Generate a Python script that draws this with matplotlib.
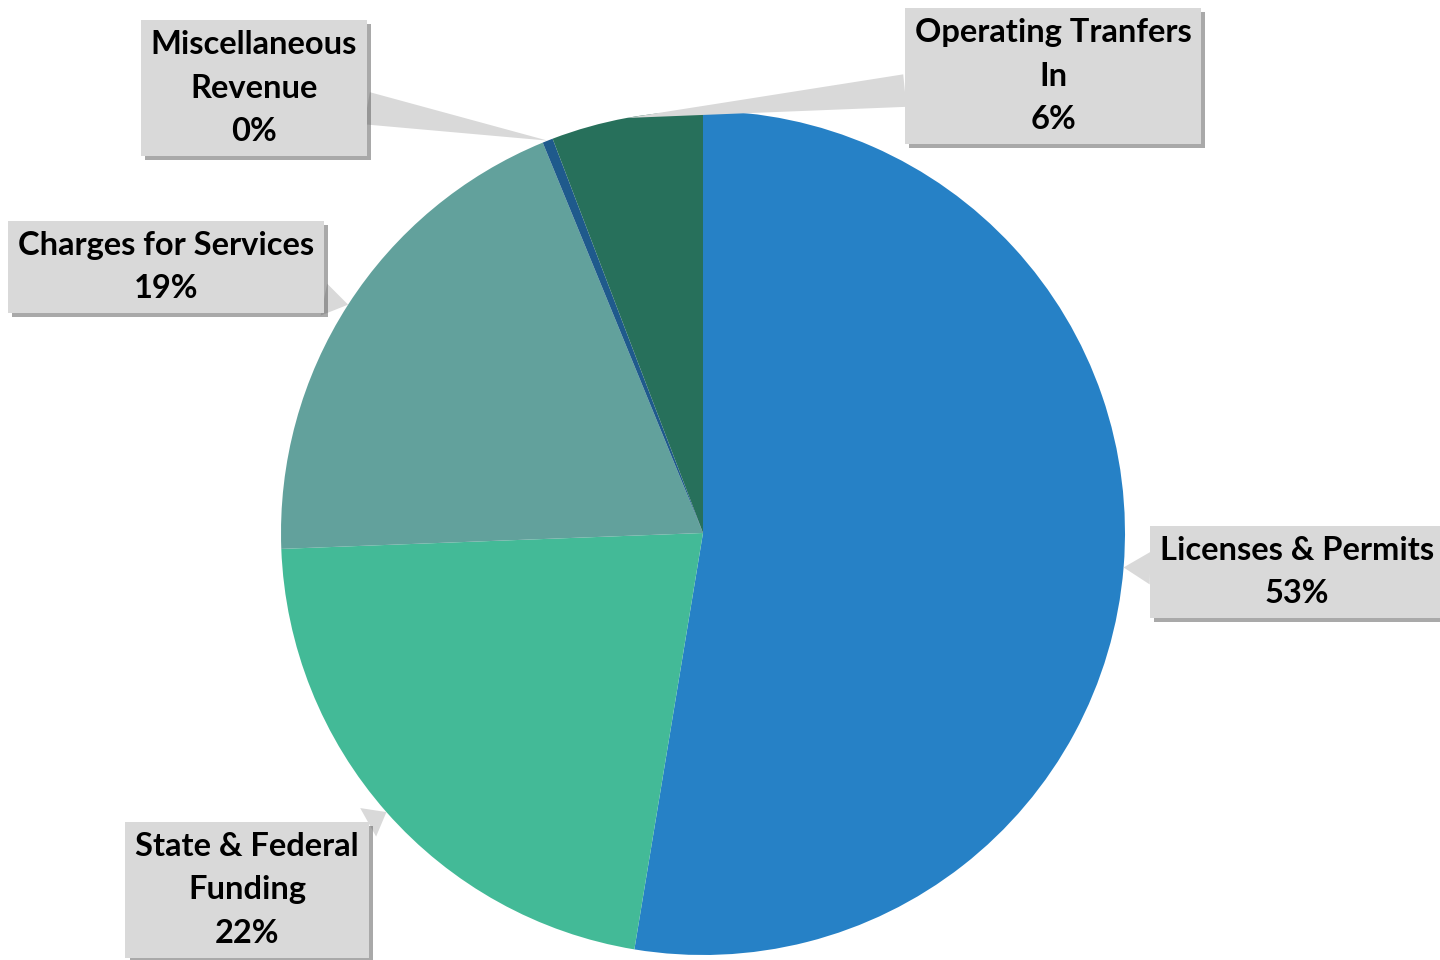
import numpy as np
import matplotlib
matplotlib.use("Agg")
import matplotlib.pyplot as plt
import matplotlib.patheffects as pe

# Datos del grafico (porcentajes)
categories = ["Licenses & Permits", "State & Federal\nFunding", "Charges for Services",
              "Miscellaneous\nRevenue", "Operating Tranfers\nIn"]
values = [52.6, 21.8, 19.4, 0.4, 5.8]
colors = ["#2681C6", "#43BA97", "#62A19C", "#1F5A8C", "#27705B"]

# Posiciones de las etiquetas (pixeles, origen abajo-izquierda)
label_pos = [(1297, 388), (247, 70), (166, 693), (254, 872), (1053, 884)]

fig = plt.figure(figsize=(14.4, 9.6), dpi=100)
ax = fig.add_axes([0, 0, 1, 1])

cx, cy, r = 703, 427, 422
wedges, _ = ax.pie(values, colors=colors, startangle=90, counterclock=False,
                   center=(cx, cy), radius=r, frame=True,
                   wedgeprops=dict(linewidth=0))

ax.set_xlim(0, 1440)
ax.set_ylim(0, 960)
ax.set_aspect("equal")
ax.axis("off")

for w, name, val, (lx, ly) in zip(wedges, categories, values, label_pos):
    mid = np.deg2rad((w.theta1 + w.theta2) / 2)
    tip = (cx + r * np.cos(mid), cy + r * np.sin(mid))
    ann = ax.annotate(f"{name}\n{round(val):.0f}%", xy=tip, xytext=(lx, ly),
                      ha="center", va="center", fontsize=23.5, fontweight="bold",
                      family="Lato", color="black", linespacing=1.6,
                      bbox=dict(boxstyle="square,pad=0.3", fc="#D9D9D9", ec="none"),
                      arrowprops=dict(arrowstyle="wedge,tail_width=1.0,shrink_factor=0.5",
                                      fc="#D9D9D9", ec="none", shrinkA=0, shrinkB=0))
    ann.get_bbox_patch().set_path_effects([
        pe.SimplePatchShadow(offset=(3, -3), shadow_rgbFace="#555555", alpha=0.5),
        pe.Normal()])

plt.savefig("out.png", dpi=100)
